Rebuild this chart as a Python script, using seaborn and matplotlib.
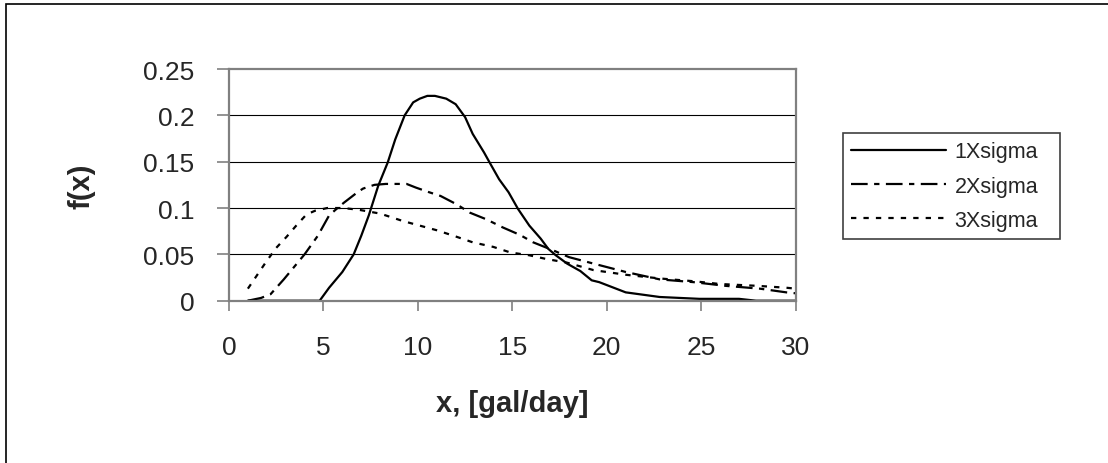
import matplotlib
matplotlib.use("Agg")
import matplotlib.pyplot as plt
from matplotlib.patches import Rectangle
import seaborn as sns
import pandas as pd

# ---- data ----
series_names = ["1Xsigma", "2Xsigma", "3Xsigma"]

x1 = [1.0, 4.8, 5.3, 6.0, 6.6, 7.0, 7.4, 7.9, 8.4, 8.8, 9.3, 9.75, 10.1, 10.5, 10.9, 11.5,
      12.0, 12.5, 12.9, 13.5, 13.8, 14.3, 14.8, 15.3, 15.9, 16.5, 16.9, 17.3, 17.9, 18.6,
      19.2, 19.6, 21.0, 22.8, 24.9, 27.0, 27.9, 30.0]
y1 = [0, 0, 0.014, 0.031, 0.050, 0.070, 0.092, 0.124, 0.149, 0.174, 0.200, 0.214, 0.218,
      0.221, 0.221, 0.218, 0.212, 0.198, 0.180, 0.160, 0.149, 0.131, 0.117, 0.099, 0.081,
      0.067, 0.056, 0.049, 0.040, 0.032, 0.022, 0.020, 0.009, 0.004, 0.002, 0.002, 0, 0]

x2 = [1.0, 1.7, 2.2, 2.9, 4.0, 4.7, 5.3, 5.8, 6.1, 6.8, 7.1, 7.7, 8.3, 9.4, 9.9, 10.6, 11.2,
      12.05, 12.75, 13.6, 14.5, 15.4, 16.1, 17.2, 18.0, 19.3, 21.0, 22.8, 24.6, 26.3,
      28.1, 29.5, 30.0]
y2 = [0.0, 0.003, 0.007, 0.023, 0.050, 0.070, 0.092, 0.101, 0.106, 0.117, 0.121, 0.125,
      0.126, 0.126, 0.122, 0.117, 0.113, 0.104, 0.095, 0.088, 0.079, 0.071, 0.063, 0.054,
      0.047, 0.040, 0.031, 0.023, 0.020, 0.016, 0.013, 0.009, 0.008]

x3 = [1.0, 1.4, 2.0, 2.5, 3.05, 3.6, 4.1, 4.55, 5.2, 6.05, 6.9, 8.0, 9.2, 10.1, 11.0, 11.9,
      12.9, 14.0, 14.9, 15.9, 16.8, 17.9, 19.3, 21.0, 22.8, 24.6, 26.0, 28.0, 29.5, 30.0]
y3 = [0.013, 0.025, 0.043, 0.057, 0.069, 0.082, 0.093, 0.097, 0.100, 0.100, 0.098, 0.094,
      0.086, 0.081, 0.076, 0.070, 0.063, 0.058, 0.052, 0.049, 0.045, 0.041, 0.033, 0.028,
      0.024, 0.021, 0.018, 0.016, 0.014, 0.013]

x_ticks = [0, 5, 10, 15, 20, 25, 30]
y_ticks = [0, 0.05, 0.1, 0.15, 0.2, 0.25]
y_tick_labels = ["0", "0.05", "0.1", "0.15", "0.2", "0.25"]
x_label = "x, [gal/day]"
y_label = "f(x)"

df = pd.concat([
    pd.DataFrame({"x": x1, "f": y1, "series": series_names[0]}),
    pd.DataFrame({"x": x2, "f": y2, "series": series_names[1]}),
    pd.DataFrame({"x": x3, "f": y3, "series": series_names[2]}),
], ignore_index=True)

# ---- style ----
sns.set_style("white")
plt.rcParams["font.family"] = ["Liberation Sans", "DejaVu Sans"]

W, H = 1108, 464
fig = plt.figure(figsize=(W / 100, H / 100), dpi=100)
ax_l, ax_r, ax_t, ax_b = 229, 795.7, 70, 301.7
ax = fig.add_axes([ax_l / W, 1 - ax_b / H, (ax_r - ax_l) / W, (ax_b - ax_t) / H])

dash_map = {"1Xsigma": "", "2Xsigma": (7.5, 2.9, 2.4, 2.9), "3Xsigma": (2.4, 3.2)}
sns.lineplot(data=df, x="x", y="f", style="series", dashes=dash_map, color="black",
             linewidth=1.6, ax=ax, legend=False, errorbar=None, sort=False)

ax.set_xlim(0, 30)
ax.set_ylim(0, 0.25)
ax.set_xticks(x_ticks)
ax.set_yticks(y_ticks)
ax.set_yticklabels(y_tick_labels)

for y in y_ticks[1:-1]:
    ax.axhline(y, color="black", linewidth=0.8, zorder=0.5)

for s in ax.spines.values():
    s.set_visible(True)
    s.set_color("#808080")
    s.set_linewidth(1.6)

ax.tick_params(axis="y", direction="out", length=9, width=1.2, color="#808080",
               labelsize=19, pad=16, left=True)
ax.tick_params(axis="x", direction="out", length=7.5, width=1.2, color="#808080",
               labelsize=19, pad=17, bottom=True)

ax.set_xlabel(x_label, fontsize=21, fontweight="bold")
ax.set_ylabel(y_label, fontsize=21, fontweight="bold")
ax.xaxis.set_label_coords(0.5, -0.38)
ax.yaxis.set_label_coords(-0.235, 0.5)

handles = ax.get_lines()[:3]
leg = ax.legend(handles, series_names, loc="upper left",
                bbox_to_anchor=(843 / W, 1 - 248 / H, 217 / W, 114 / H),
                bbox_transform=fig.transFigure, mode="expand",
                fontsize=15.5, handlelength=4.4, handletextpad=0.4, borderpad=0.38,
                labelspacing=0.62, borderaxespad=0, fancybox=False, framealpha=1,
                edgecolor="#404040")
leg.get_frame().set_linewidth(1.2)

# outer chart border
fig.add_artist(Rectangle((6 / W, -0.1), 1.2, 1 - 5 / H + 0.1, transform=fig.transFigure,
                         fill=False, edgecolor="black", linewidth=1.2))

fig.savefig("out.png", dpi=100, facecolor="white")
